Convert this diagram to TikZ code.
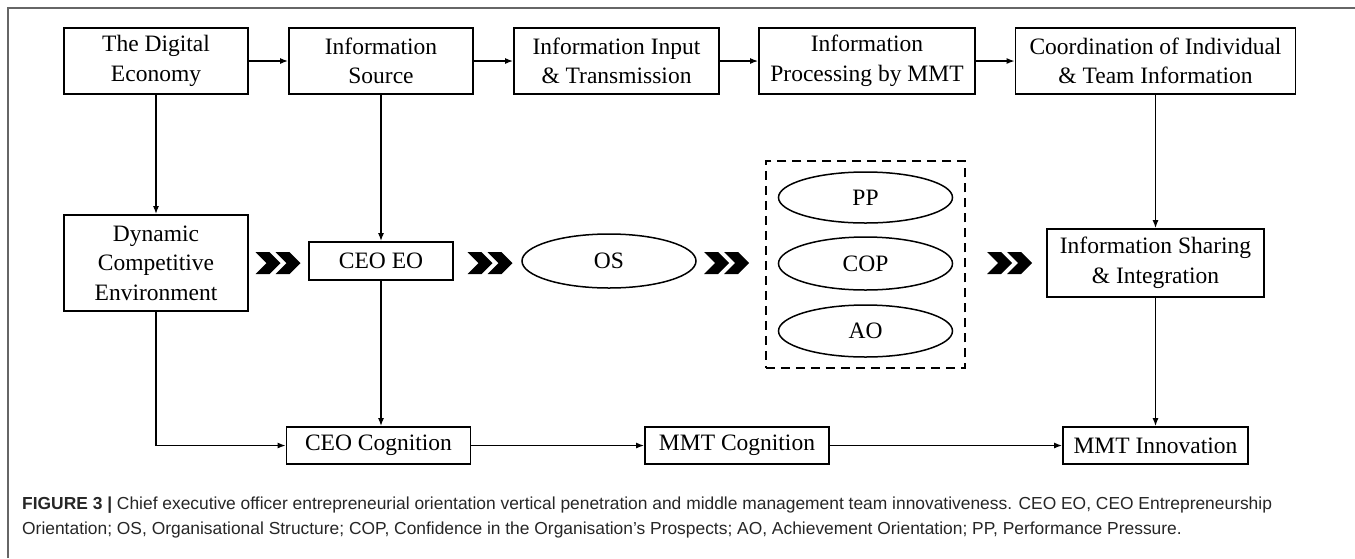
\documentclass[tikz,border=0pt]{standalone}
\usepackage{fontspec}
\setmainfont{Liberation Serif}
\setsansfont{Liberation Sans}
\usetikzlibrary{arrows.meta,positioning,shapes.geometric,fit}

\begin{document}
\begin{tikzpicture}[x=1pt,y=-1pt,>={Latex[length=8pt,width=6pt]},
  box/.style={draw,line width=1.8pt,align=center,inner sep=0pt,minimum width=184pt,font=\fontsize{23.5}{29.5}\selectfont},
  oval/.style={draw,ellipse,line width=1.5pt,inner sep=0pt,minimum width=174pt,minimum height=52pt,font=\fontsize{23.5}{29.5}\selectfont},
  link/.style={->,line width=1.3pt}]
  \useasboundingbox (0,0) rectangle (1355,558);
  \draw[gray!80!black,line width=1.2pt] (8,558) -- (8,8) -- (1355,8);
  % top row
  \node[box,minimum height=66pt] (eco) at (156,61) {The Digital\\Economy};
  \node[box,minimum height=66pt] (src) at (381,61) {Information\\Source};
  \node[box,minimum height=66pt,minimum width=205pt] (inp) at (616.5,61) {Information Input\\\& Transmission};
  \node[box,minimum height=66pt,minimum width=216pt] (proc) at (867,61) {Information\\Processing by MMT};
  \node[box,minimum height=66pt,minimum width=280pt] (coord) at (1155.5,61) {Coordination of Individual\\\& Team Information};
  % middle row
  \node[box,minimum height=96pt] (dyn) at (156,263) {Dynamic\\Competitive\\Environment};
  \node[box,minimum height=38pt,minimum width=144pt] (ceoeo) at (381,261) {CEO EO};
  \node[oval,minimum height=54pt] (os) at (609,261) {OS};
  \node[oval,minimum height=51pt] (pp) at (865.5,197.5) {PP};
  \node[oval,minimum height=53pt] (cop) at (865.5,263.5) {COP};
  \node[oval] (ao) at (865.5,331) {AO};
  \node[draw,dashed,dash pattern=on 9pt off 6pt,line width=1.8pt,inner xsep=12pt,inner ysep=10pt,fit=(pp)(cop)(ao)] (grp) {};
  \node[box,minimum height=68pt,minimum width=217pt] (share) at (1155.5,263) {Information Sharing\\\& Integration};
  % bottom row
  \node[box,minimum height=37pt] (ceocog) at (378.5,445.5) {CEO Cognition};
  \node[box,minimum height=37pt] (mmtcog) at (737,445.5) {MMT Cognition};
  \node[box,minimum height=37pt,minimum width=185pt] (mmtinn) at (1155.5,445.5) {MMT Innovation};
  % chevrons
  \foreach \cx in {255.5,467.5,704,987}
    \foreach \d in {0,20}
      \fill (\cx+\d,252) -- ++(14,0) -- ++(11,11) -- ++(-11,11) -- ++(-14,0) -- ++(11,-11) -- cycle;
  % links
  \draw[link] (eco) -- (src);
  \draw[link] (src) -- (inp);
  \draw[link] (inp) -- (proc);
  \draw[link] (proc) -- (coord);
  \draw[link] (eco) -- (dyn);
  \draw[link] (src) -- (ceoeo);
  \draw[link] (coord) -- (share);
  \draw[link] (share) -- (mmtinn);
  \draw[link] (ceoeo) -- (ceoeo |- ceocog.north);
  \draw[link] (dyn) |- (ceocog);
  \draw[link] (ceocog) -- (mmtcog);
  \draw[link] (mmtcog) -- (mmtinn);
  % caption
  \node[anchor=base west,align=left,inner sep=0pt,text=black!85,font=\sffamily\fontsize{17.4}{25}\selectfont] (cap) at (22,534)
    {\textbf{FIGURE 3 |} Chief executive officer entrepreneurial orientation vertical penetration and middle management team innovativeness. CEO EO, CEO Entrepreneurship\\
     Orientation; OS, Organisational Structure; COP, Confidence in the Organisation’s Prospects; AO, Achievement Orientation; PP, Performance Pressure.};
\end{tikzpicture}
\end{document}
